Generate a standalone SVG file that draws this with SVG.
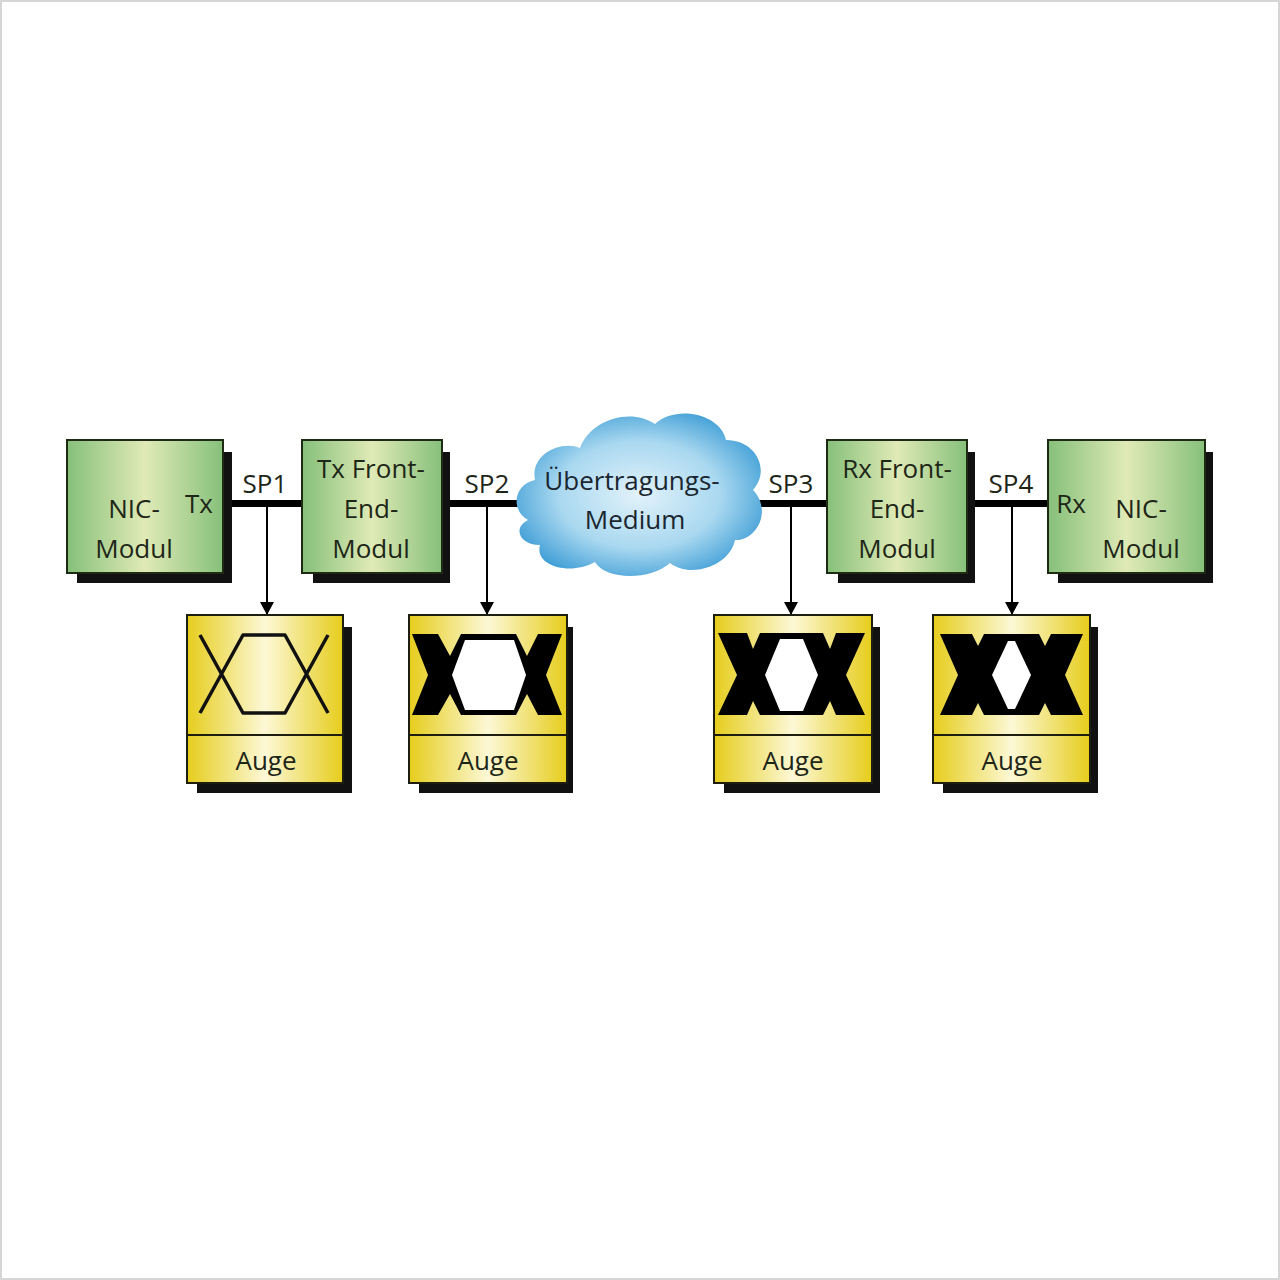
<svg xmlns="http://www.w3.org/2000/svg" width="1280" height="1280" viewBox="0 0 1280 1280">
<style>
.t{font-family:"Open Sans","Liberation Sans",sans-serif;font-size:26px;fill:#1e2618;text-anchor:middle}
.sh{fill:#111}
.gb{fill:url(#gG);stroke:#1e2a14;stroke-width:2}
.yb{fill:url(#gY);stroke:#1e1e10;stroke-width:2}
.bus{stroke:#000;stroke-width:7;fill:none}
.arr{stroke:#000;stroke-width:2;fill:none;marker-end:url(#ah)}
.eye{fill:#000}
.hole{fill:#fff}
</style>
<defs>
<linearGradient id="gG" x1="0" y1="0" x2="1" y2="0">
<stop offset="0" stop-color="#86c07a"/><stop offset="0.5" stop-color="#e0eab6"/><stop offset="1" stop-color="#86c07a"/>
</linearGradient>
<linearGradient id="gY" x1="0" y1="0" x2="1" y2="0">
<stop offset="0" stop-color="#e6cd1c"/><stop offset="0.5" stop-color="#fcf8d6"/><stop offset="1" stop-color="#e6cd1c"/>
</linearGradient>
<radialGradient id="gC" cx="0.5" cy="0.5" r="0.6">
<stop offset="0" stop-color="#e2f2fa"/><stop offset="0.55" stop-color="#a9d8f0"/><stop offset="1" stop-color="#2f95d2"/>
</radialGradient>
<marker id="ah" markerWidth="14" markerHeight="14" refX="13" refY="7" orient="auto" markerUnits="userSpaceOnUse">
<path d="M0,0 L13,7 L0,14 Z" fill="#000"/>
</marker>
</defs>
<rect x="0" y="0" width="1280" height="1280" fill="#fff"/>
<rect x="1" y="1" width="1278" height="1278" fill="none" stroke="#d6d6d6" stroke-width="2"/>

<g id="connectors">
<line class="bus" x1="229" y1="503.5" x2="303" y2="503.5"/>
<line class="bus" x1="448" y1="503.5" x2="530" y2="503.5"/>
<line class="bus" x1="752" y1="503.5" x2="828" y2="503.5"/>
<line class="bus" x1="973" y1="503.5" x2="1049" y2="503.5"/>
<line class="arr" x1="267" y1="507" x2="267" y2="615"/>
<line class="arr" x1="487" y1="507" x2="487" y2="615"/>
<line class="arr" x1="791" y1="507" x2="791" y2="615"/>
<line class="arr" x1="1012" y1="507" x2="1012" y2="615"/>
<text class="t" x="265" y="493">SP1</text>
<text class="t" x="487" y="493">SP2</text>
<text class="t" x="791" y="493">SP3</text>
<text class="t" x="1011" y="493">SP4</text>
</g>

<g id="nic-tx">
<rect class="sh" x="77" y="452" width="155" height="131"/>
<rect class="gb" x="67" y="440" width="156" height="133"/>
<text class="t" x="134" y="518">NIC-</text>
<text class="t" x="134" y="558">Modul</text>
<text class="t" x="199" y="513">Tx</text>
</g>

<g id="tx-frontend">
<rect class="sh" x="313" y="452" width="137" height="131"/>
<rect class="gb" x="302" y="440" width="140" height="133"/>
<text class="t" x="371" y="478">Tx Front-</text>
<text class="t" x="371" y="518">End-</text>
<text class="t" x="371" y="558">Modul</text>
</g>

<g id="medium">
<path d="M528,520 C510,510 514,484 535,480 C530,455 560,440 580,448 C590,420 630,407 655,424 C676,404 721,414 726,440 C756,440 771,470 753,490 C773,511 756,541 735,540 C730,566 690,579 670,563 C650,581 605,580 595,562 C570,576 534,566 540,545 C520,545 512,528 528,520 Z" fill="url(#gC)"/>
<text class="t" x="632" y="490" style="fill:#1a2630">Übertragungs-</text>
<text class="t" x="635" y="529" style="fill:#1a2630">Medium</text>
</g>

<g id="rx-frontend">
<rect class="sh" x="838" y="452" width="137" height="131"/>
<rect class="gb" x="827" y="440" width="140" height="133"/>
<text class="t" x="897" y="478">Rx Front-</text>
<text class="t" x="897" y="518">End-</text>
<text class="t" x="897" y="558">Modul</text>
</g>

<g id="nic-rx">
<rect class="sh" x="1058" y="452" width="155" height="131"/>
<rect class="gb" x="1048" y="440" width="157" height="133"/>
<text class="t" x="1141" y="518">NIC-</text>
<text class="t" x="1141" y="558">Modul</text>
<text class="t" x="1071" y="513">Rx</text>
</g>

<g id="eye1">
<rect class="sh" x="197" y="627" width="155" height="166"/>
<rect class="yb" x="187" y="615" width="156" height="168"/>
<line x1="187" y1="735" x2="343" y2="735" stroke="#1e1e10" stroke-width="2"/>
<path d="M200,635 L243,713 L285,713 L328,635 M200,713 L243,635 L285,635 L328,713" fill="none" stroke="#111" stroke-width="3.5" stroke-linejoin="round"/>
<text class="t" x="266" y="770">Auge</text>
</g>

<g id="eye2">
<rect class="sh" x="419" y="627" width="154" height="166"/>
<rect class="yb" x="409" y="615" width="158" height="168"/>
<line x1="409" y1="735" x2="567" y2="735" stroke="#1e1e10" stroke-width="2"/>
<polygon class="eye" points="412,634 438,634 450,656 461,634 516,634 527,656 538,634 562,634 546,675 562,715 538,715 527,694 516,715 461,715 450,694 438,715 412,715 428,675"/>
<polygon class="hole" points="465,640 514,640 526,675 514,710 465,710 452,675"/>
<text class="t" x="488" y="770">Auge</text>
</g>

<g id="eye3">
<rect class="sh" x="724" y="627" width="156" height="166"/>
<rect class="yb" x="714" y="615" width="158" height="168"/>
<line x1="714" y1="735" x2="872" y2="735" stroke="#1e1e10" stroke-width="2"/>
<polygon class="eye" points="718,633 747,633 753,649 760,633 823,633 830,649 836,633 865,633 846,675 865,715 836,715 830,701 823,715 760,715 753,701 747,715 718,715 737,675"/>
<polygon class="hole" points="780,639 803,639 818,675 803,711 780,711 765,675"/>
<text class="t" x="793" y="770">Auge</text>
</g>

<g id="eye4">
<rect class="sh" x="943" y="627" width="155" height="166"/>
<rect class="yb" x="933" y="615" width="157" height="168"/>
<line x1="933" y1="735" x2="1090" y2="735" stroke="#1e1e10" stroke-width="2"/>
<polygon class="eye" points="940,634 972,634 978,646 984,634 1039,634 1045,646 1051,634 1083,634 1065,675 1083,715 1051,715 1045,703 1039,715 984,715 978,703 972,715 940,715 958,675"/>
<polygon class="hole" points="1008,641 1015,641 1031,675 1015,709 1008,709 992,675"/>
<text class="t" x="1012" y="770">Auge</text>
</g>
</svg>
